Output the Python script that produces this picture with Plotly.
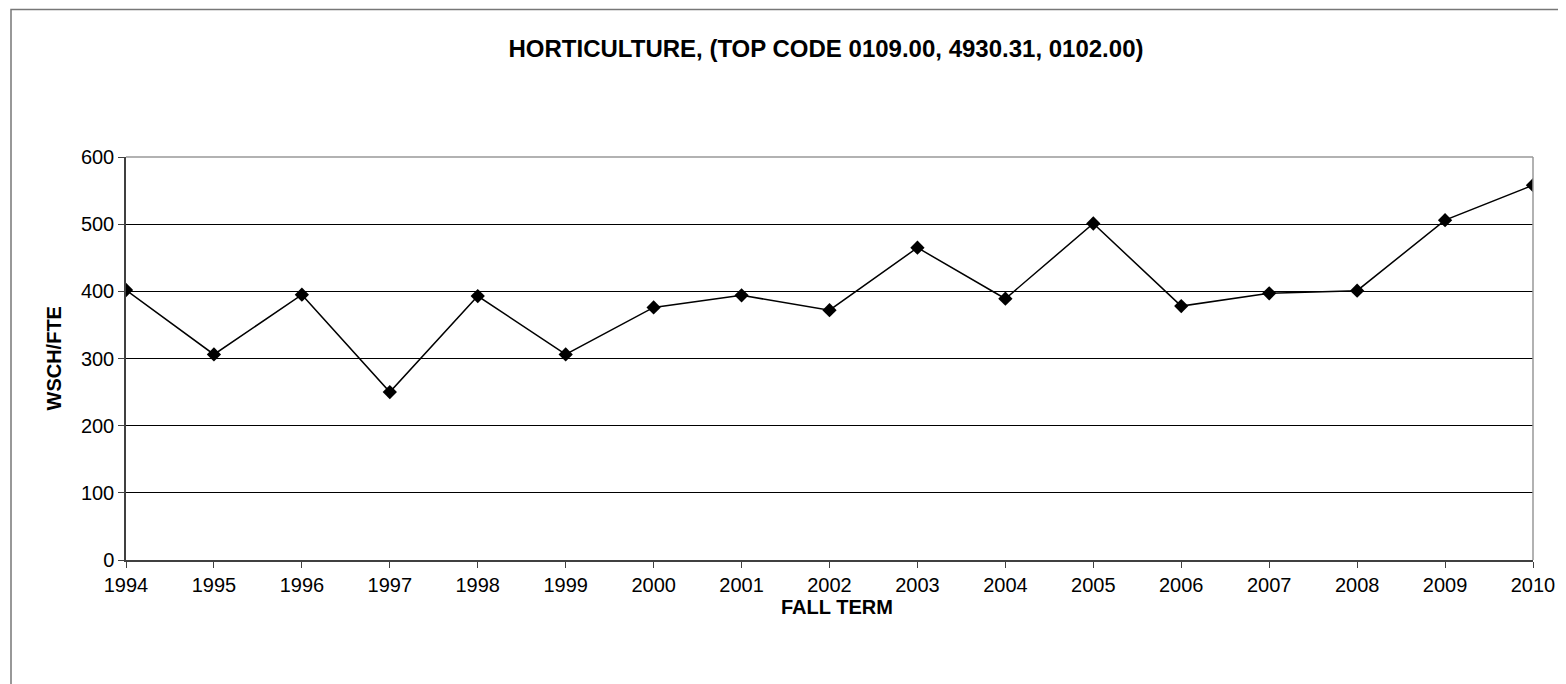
import plotly.graph_objects as go

# fall terms and WSCH/FTE
years = [1994, 1995, 1996, 1997, 1998, 1999, 2000, 2001, 2002,
         2003, 2004, 2005, 2006, 2007, 2008, 2009, 2010]
wsch_fte = [402, 306, 395, 250, 393, 306, 376, 394, 372,
            465, 389, 501, 378, 397, 401, 506, 558]
y_ticks = [0, 100, 200, 300, 400, 500, 600]

chart_title = "HORTICULTURE, (TOP CODE 0109.00, 4930.31, 0102.00)"
x_title = "FALL TERM"
y_title = "WSCH/FTE"

font_family = "Liberation Sans, Arial, sans-serif"

# page body has an 8px margin, so the figure is placed 8px in
W, H = 1558, 676
plot_w, plot_h = 1533 - 126, 560 - 157

fig = go.Figure()
fig.add_trace(go.Scatter(
    x=years, y=wsch_fte, mode="lines+markers",
    line=dict(color="black", width=1.5),
    marker=dict(symbol="diamond", size=11, color="black"),
    showlegend=False,
))

fig.update_layout(
    width=W, height=H,
    margin=dict(l=118, r=W + 8 - 1533, t=149, b=H + 8 - 560),
    paper_bgcolor="white", plot_bgcolor="white",
    font=dict(family=font_family, size=20, color="black"),
    title=dict(text="<b>" + chart_title + "</b>", x=(826 - 126) / plot_w, xref="paper",
               y=1 - (49 - 8) / H, yanchor="middle", xanchor="center",
               font=dict(size=24, family=font_family, color="black")),
)

fig.update_xaxes(
    range=[1994, 2010], tickmode="array", tickvals=years,
    ticktext=[str(y) for y in years],
    showgrid=False, zeroline=False,
    showline=True, linecolor="#404040", linewidth=1.5, mirror=False,
    ticks="outside", ticklen=6, tickcolor="#404040",
    tickfont=dict(size=20, family=font_family, color="black"),
)
fig.update_yaxes(
    range=[0, 600], tickmode="array", tickvals=y_ticks,
    showgrid=True, gridcolor="black", gridwidth=1, zeroline=False,
    showline=True, linecolor="#404040", linewidth=1.5, mirror=False,
    ticks="outside", ticklen=6, tickcolor="#404040",
    tickfont=dict(size=20, family=font_family, color="black"),
)

# grey top/right edge of the plot area
fig.add_shape(type="line", xref="paper", yref="paper", x0=0, x1=1, y0=1, y1=1,
              line=dict(color="#999999", width=1.5))
fig.add_shape(type="line", xref="paper", yref="paper", x0=1, x1=1, y0=0, y1=1,
              line=dict(color="#999999", width=1.5))

# chart area border (runs off the right and bottom of the picture)
fig.add_shape(type="rect", xref="paper", yref="paper",
              x0=(11 - 126) / plot_w, x1=1.03, y0=-0.35, y1=(560 - 9.5) / plot_h,
              line=dict(color="#777777", width=1.5), layer="below")

fig.add_annotation(text="<b>" + x_title + "</b>", xref="paper", yref="paper",
                   x=(837 - 126) / plot_w, y=(560 - 607) / plot_h,
                   xanchor="center", yanchor="middle", showarrow=False,
                   font=dict(size=20, family=font_family, color="black"))
fig.add_annotation(text="<b>" + y_title + "</b>", xref="paper", yref="paper",
                   x=(53 - 126) / plot_w, y=0.5, textangle=-90,
                   xanchor="center", yanchor="middle", showarrow=False,
                   font=dict(size=20, family=font_family, color="black"))

fig.write_html("out.html")
